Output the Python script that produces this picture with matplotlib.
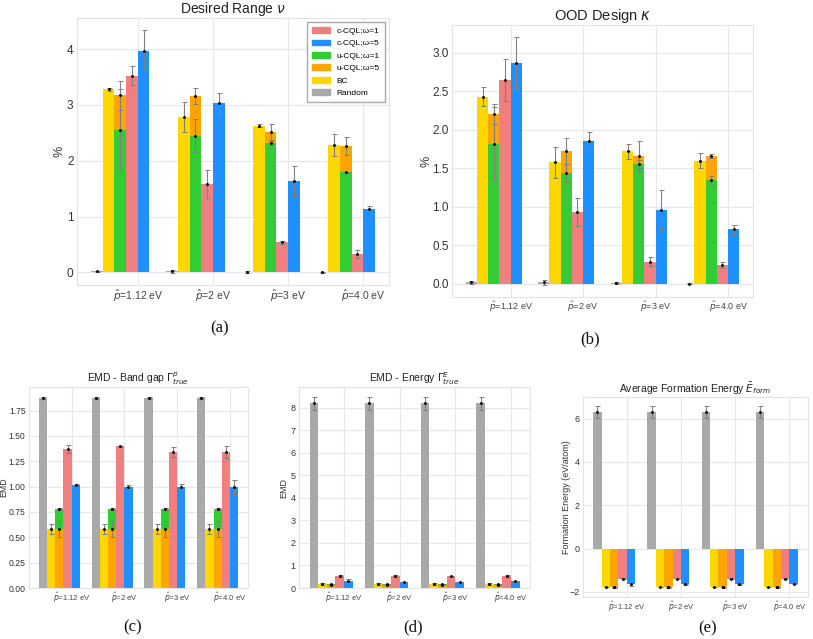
import numpy as np
import matplotlib
matplotlib.use('Agg')
import matplotlib.pyplot as plt
from matplotlib.patches import Patch

plt.rcParams['font.family'] = ['Liberation Sans', 'DejaVu Sans']
plt.rcParams['axes.unicode_minus'] = True

# group labels (band gap targets)
groups = [r'$\hat{p}$=1.12 eV', r'$\hat{p}$=2 eV', r'$\hat{p}$=3 eV', r'$\hat{p}$=4.0 eV']
series = ['c-CQL;ω=1', 'c-CQL;ω=5', 'u-CQL;ω=1', 'u-CQL;ω=5', 'BC', 'Random']
colors = {'c-CQL;ω=1': '#F08080', 'c-CQL;ω=5': '#1E90FF', 'u-CQL;ω=1': '#32CD32',
          'u-CQL;ω=5': '#FFA500', 'BC': '#FFD700', 'Random': '#A9A9A9'}

# (a) desired range, %
range_mean = {'c-CQL;ω=1': [3.52, 1.59, 0.54, 0.33], 'c-CQL;ω=5': [3.97, 3.04, 1.63, 1.14],
              'u-CQL;ω=1': [2.55, 2.45, 2.32, 1.79], 'u-CQL;ω=5': [3.17, 3.16, 2.51, 2.26],
              'BC': [3.28, 2.78, 2.63, 2.28], 'Random': [0.02, 0.02, 0.005, 0.0]}
range_err = {'c-CQL;ω=1': [0.17, 0.25, 0.03, 0.07], 'c-CQL;ω=5': [0.37, 0.18, 0.27, 0.04],
             'u-CQL;ω=1': [0.73, 0.30, 0.04, 0.01], 'u-CQL;ω=5': [0.26, 0.15, 0.14, 0.16],
             'BC': [0.03, 0.27, 0.03, 0.20], 'Random': [0.01, 0.03, 0.01, 0.005]}

# (b) OOD design, %
ood_mean = {'c-CQL;ω=1': [2.65, 0.93, 0.29, 0.24], 'c-CQL;ω=5': [2.87, 1.86, 0.96, 0.71],
            'u-CQL;ω=1': [1.82, 1.44, 1.56, 1.35], 'u-CQL;ω=5': [2.21, 1.73, 1.66, 1.66],
            'BC': [2.43, 1.58, 1.72, 1.60], 'Random': [0.02, 0.02, 0.01, 0.0]}
ood_err = {'c-CQL;ω=1': [0.27, 0.18, 0.06, 0.04], 'c-CQL;ω=5': [0.33, 0.11, 0.26, 0.06],
           'u-CQL;ω=1': [0.47, 0.12, 0.05, 0.05], 'u-CQL;ω=5': [0.13, 0.17, 0.20, 0.02],
           'BC': [0.12, 0.20, 0.10, 0.10], 'Random': [0.02, 0.03, 0.01, 0.005]}

# (c) EMD band gap
gap_mean = {'c-CQL;ω=1': [1.37, 1.40, 1.34, 1.345], 'c-CQL;ω=5': [1.018, 1.0, 0.995, 0.995],
            'u-CQL;ω=1': [0.78, 0.78, 0.78, 0.78], 'u-CQL;ω=5': [0.58, 0.58, 0.58, 0.58],
            'BC': [0.585, 0.585, 0.585, 0.585], 'Random': [1.878, 1.878, 1.878, 1.878]}
gap_err = {'c-CQL;ω=1': [0.04, 0.005, 0.05, 0.06], 'c-CQL;ω=5': [0.005, 0.02, 0.035, 0.07],
           'u-CQL;ω=1': [0.01, 0.01, 0.01, 0.01], 'u-CQL;ω=5': [0.08, 0.08, 0.08, 0.08],
           'BC': [0.05, 0.05, 0.05, 0.05], 'Random': [0.01, 0.01, 0.01, 0.01]}

# (d) EMD energy
energy_mean = {'c-CQL;ω=1': [0.52, 0.52, 0.52, 0.52], 'c-CQL;ω=5': [0.30, 0.26, 0.26, 0.30],
               'u-CQL;ω=1': [0.16, 0.16, 0.16, 0.16], 'u-CQL;ω=5': [0.15, 0.15, 0.15, 0.15],
               'BC': [0.17, 0.17, 0.17, 0.17], 'Random': [8.2, 8.2, 8.2, 8.2]}
energy_err = {'c-CQL;ω=1': [0.05, 0.05, 0.03, 0.05], 'c-CQL;ω=5': [0.10, 0.02, 0.02, 0.02],
              'u-CQL;ω=1': [0.03, 0.03, 0.03, 0.03], 'u-CQL;ω=5': [0.03, 0.03, 0.03, 0.03],
              'BC': [0.03, 0.03, 0.03, 0.03], 'Random': [0.3, 0.3, 0.3, 0.3]}

# (e) average formation energy, eV/atom
form_mean = {'c-CQL;ω=1': [-1.40, -1.40, -1.40, -1.40], 'c-CQL;ω=5': [-1.62, -1.65, -1.65, -1.63],
             'u-CQL;ω=1': [-1.80, -1.80, -1.80, -1.80], 'u-CQL;ω=5': [-1.78, -1.78, -1.78, -1.78],
             'BC': [-1.78, -1.78, -1.78, -1.78], 'Random': [6.30, 6.30, 6.30, 6.30]}
form_err = {'c-CQL;ω=1': [0.03, 0.03, 0.03, 0.03], 'c-CQL;ω=5': [0.10, 0.02, 0.02, 0.02],
            'u-CQL;ω=1': [0.02, 0.02, 0.02, 0.02], 'u-CQL;ω=5': [0.02, 0.02, 0.02, 0.02],
            'BC': [0.02, 0.02, 0.02, 0.02], 'Random': [0.28, 0.28, 0.28, 0.28]}

W = 0.155
x = np.arange(len(groups))
# slot offsets: Random, BC, u-CQL (both omegas share a slot), c-CQL w=1, c-CQL w=5
offsets = {'Random': -3.5, 'BC': -2.5, 'u-CQL;ω=1': -1.5, 'u-CQL;ω=5': -1.5,
           'c-CQL;ω=1': -0.5, 'c-CQL;ω=5': 0.5}


def draw_panel(ax, means, errs, title, ylabel, label_x, fs_tick, fs_xtick, fs_title, fs_label):
    for s in ['Random', 'BC', 'c-CQL;ω=1', 'c-CQL;ω=5']:
        ax.bar(x + offsets[s] * W, means[s], W, color=colors[s], zorder=2)
    # shared u-CQL slot: draw the larger bar first so both stay visible
    for i in range(len(groups)):
        pair = sorted(['u-CQL;ω=1', 'u-CQL;ω=5'], key=lambda s: -abs(means[s][i]))
        for s in pair:
            ax.bar(x[i] + offsets[s] * W, means[s][i], W, color=colors[s], zorder=2)
    for s in series:
        ax.errorbar(x + offsets[s] * W, means[s], yerr=errs[s], fmt='o', color='k',
                    ms=1.1, ecolor='#808080', elinewidth=0.8, capsize=1.8,
                    capthick=0.7, zorder=3)
    ax.set_xticks(x)
    ax.set_xticklabels(groups, fontsize=fs_xtick, color='#444444')
    ax.tick_params(axis='y', labelsize=fs_tick, colors='#333333', length=0, pad=2.5)
    ax.tick_params(axis='x', length=0, pad=2)
    ax.set_title(title, fontsize=fs_title, color='#222222', pad=1.5)
    ax.set_ylabel(ylabel, fontsize=fs_label, color='#333333')
    ax.yaxis.set_label_coords(label_x, 0.5)
    ax.grid(True, color='#e6e6ee', linewidth=0.8, zorder=0)
    ax.set_axisbelow(True)
    for sp in ax.spines.values():
        sp.set_color('#e2e2e8')
        sp.set_linewidth(0.8)


fig = plt.figure(figsize=(8.13, 6.39), dpi=100)
FW, FH = 813.0, 639.0


def rect(l, r, t, b):
    return [l / FW, (FH - b) / FH, (r - l) / FW, (b - t) / FH]


ax_a = fig.add_axes(rect(77, 389, 18, 285))
draw_panel(ax_a, range_mean, range_err, r'Desired Range $\nu$', '%', -0.038,
           8.5, 7.5, 10, 9)
handles = [Patch(color=colors[s], label=s) for s in series]
ax_a.legend(handles=handles, loc='upper right', fontsize=6, frameon=True,
            edgecolor='#aaaaaa', fancybox=False, framealpha=1, handlelength=2.2,
            borderpad=0.6, labelspacing=0.55)

ax_b = fig.add_axes(rect(452, 753, 25, 297))
draw_panel(ax_b, ood_mean, ood_err, r'OOD Design $\kappa$', '%', -0.066,
           8.5, 6.5, 10.5, 9)

ax_c = fig.add_axes(rect(29, 248, 387, 588))
draw_panel(ax_c, gap_mean, gap_err, r'EMD - Band gap $\Gamma^{p}_{true}$', 'EMD', -0.097,
           6.2, 5.5, 7.5, 6.3)

ax_d = fig.add_axes(rect(299, 530, 387, 588))
draw_panel(ax_d, energy_mean, energy_err, r'EMD - Energy $\Gamma^{E}_{true}$', 'EMD', -0.048,
           6.5, 5.5, 7.5, 6.5)

ax_e = fig.add_axes(rect(583, 808, 397, 597))
draw_panel(ax_e, form_mean, form_err, r'Average Formation Energy $\bar{E}_{form}$',
           'Formation Energy (eV/atom)', -0.053, 6.5, 5.5, 7.5, 6.5)

# panel captions
for lab, (px, py) in zip(['(a)', '(b)', '(c)', '(d)', '(e)'],
                         [(220, 328), (590, 339), (133, 627), (413, 627), (708, 628)]):
    fig.text(px / FW, 1 - py / FH, lab, ha='center', va='center', fontsize=12,
             family='Liberation Serif', color='#111111')

fig.savefig('out.png', dpi=100, facecolor='white')
